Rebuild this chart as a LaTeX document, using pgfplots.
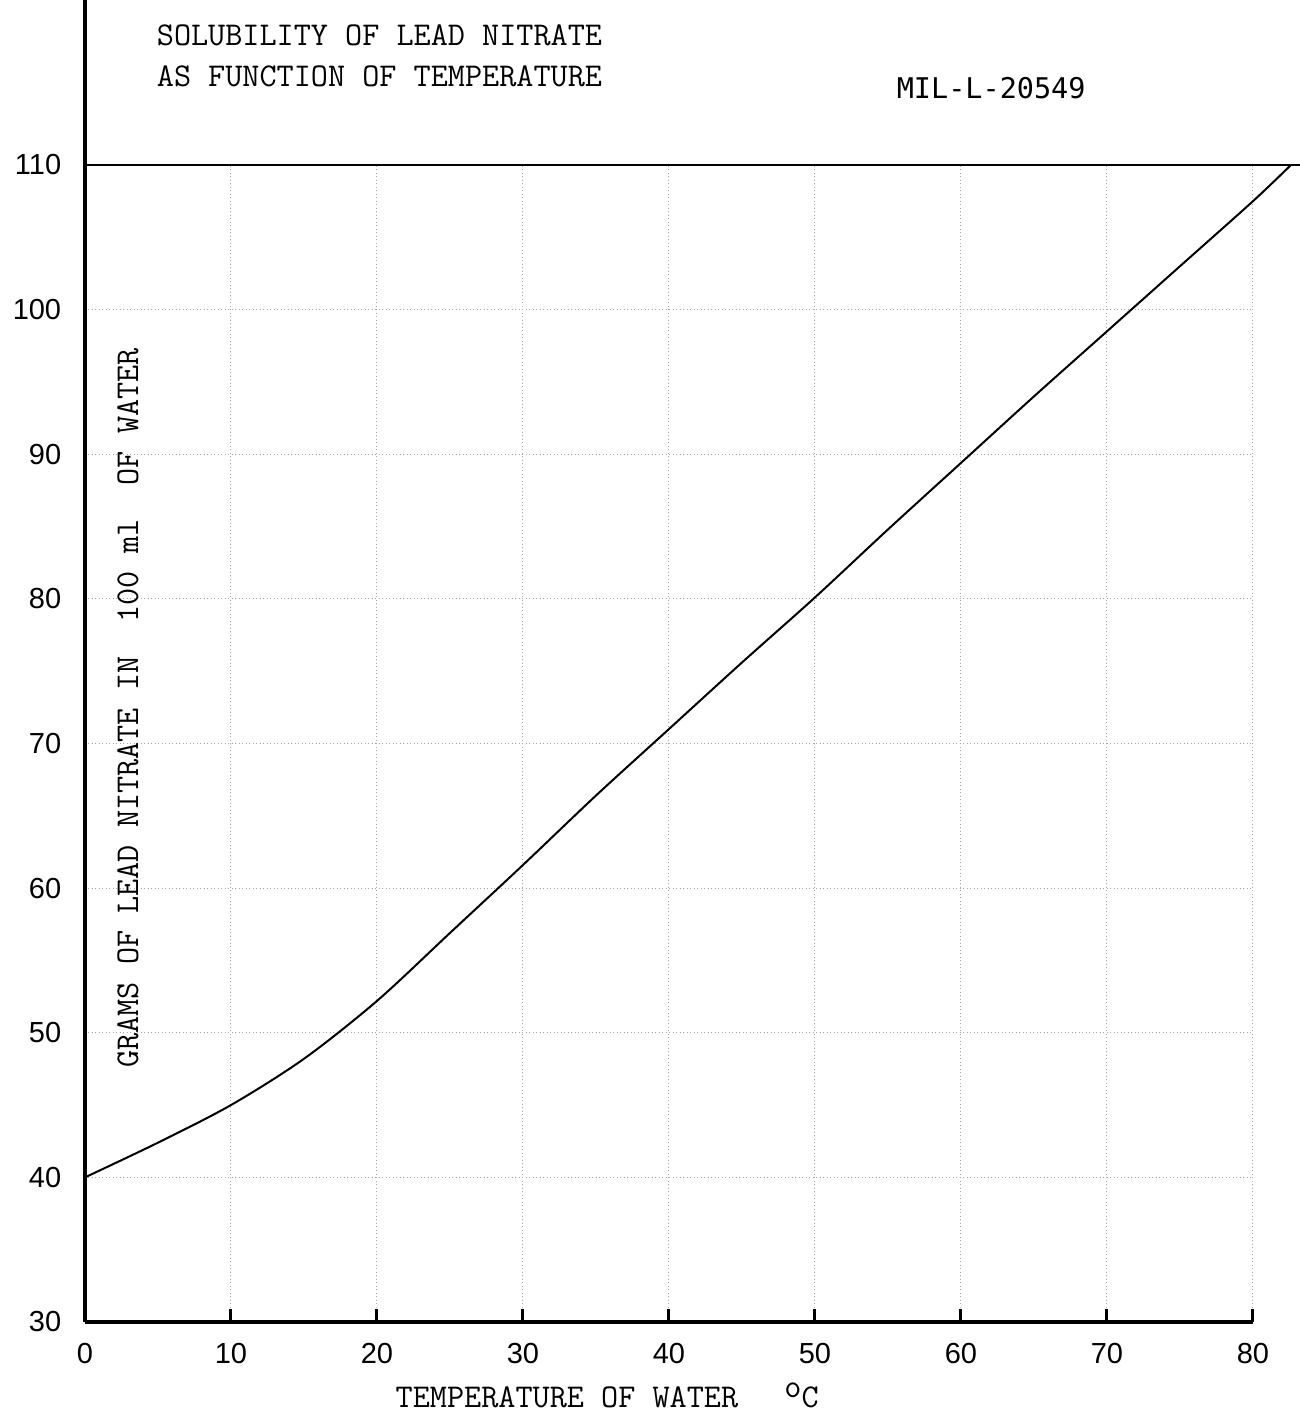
\documentclass[border=0pt]{standalone}
\usepackage{fontspec}
\usepackage{pgfplots}
\pgfplotsset{compat=1.18}
\newfontfamily\ticksans{Liberation Sans}
\newfontfamily\milfont{DejaVu Sans Mono}
\begin{document}
\begin{tikzpicture}
\begin{axis}[
  scale only axis, width=467.2pt, height=462.8pt,
  xmin=0, xmax=80, ymin=30, ymax=110,
  axis x line*=bottom, axis y line*=left,
  axis line style={line width=1.4pt,-},
  xtick={0,10,...,80}, ytick={30,40,...,110},
  tick align=inside, major tick length=5pt,
  xtick style={black, line width=1.2pt},
  ytick style={draw=none},
  grid=major, grid style={gray!70, densely dotted, line width=0.4pt},
  tick label style={font=\fontsize{11.6}{12}\selectfont\ticksans},
  /pgf/number format/assume math mode=true,
  xticklabel style={yshift=-5pt},
  yticklabel style={xshift=-6pt},
  clip=false,
]
\addplot[black, line width=0.8pt, smooth, tension=0.5] coordinates {
 (0,40) (5,42.4) (10,45.0) (15,48.2) (20,52.2) (25,56.9) (30,61.6)
 (35,66.4) (40,71.0) (45,75.6) (50,80.1) (55,84.8) (60,89.4) (65,94.0)
 (70,98.5) (75,103.0) (80,107.5) (82.6,110)
};
\draw[line width=1.4pt] (axis cs:0,110) -- (axis cs:0,121.41);
\draw[line width=0.7pt] (axis cs:0,110) -- (axis cs:83.2,110);
\node[anchor=west, font=\fontsize{13.3}{14}\selectfont\ttfamily] at (axis cs:4.32,119.0) {SOLUBILITY OF LEAD NITRATE};
\node[anchor=west, font=\fontsize{13.3}{14}\selectfont\ttfamily] at (axis cs:4.32,116.1) {AS FUNCTION OF TEMPERATURE};
\node[anchor=west, font=\fontsize{11.4}{12}\milfont] at (axis cs:55.0,115.3) {MIL-L-20549};
\node[anchor=west, font=\fontsize{13.3}{14}\selectfont\ttfamily] at (axis cs:20.68,24.81) {TEMPERATURE OF WATER};
\node[anchor=west, font=\fontsize{13.3}{14}\selectfont\ttfamily] at (axis cs:47.3,24.9) {\raisebox{0.7ex}{o}C};
\node[rotate=90, font=\fontsize{13.3}{14}\selectfont\ttfamily] at (axis cs:2.95,72.46) {GRAMS OF LEAD NITRATE IN\ \ 100 ml\ \ OF WATER};
\coordinate (BL) at (axis cs:-5.82,23.5);
\coordinate (TR) at (axis cs:83.22,121.41);
\end{axis}
\pgfresetboundingbox
\useasboundingbox (BL) rectangle (TR);
\end{tikzpicture}
\end{document}
